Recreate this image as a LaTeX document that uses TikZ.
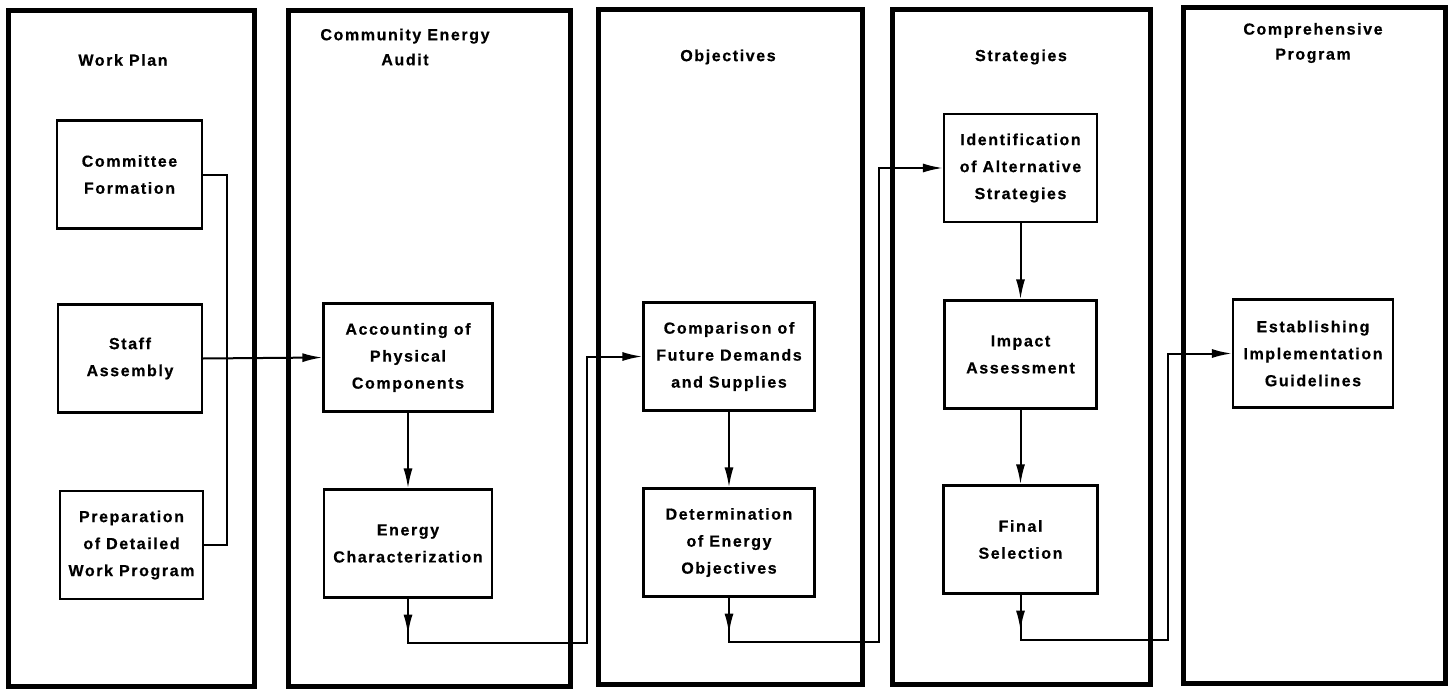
\documentclass[tikz,border=0pt]{standalone}
\usepackage{fontspec}
\setmainfont{Liberation Sans}[LetterSpace=10,FakeBold=0.6]
\usetikzlibrary{arrows.meta}
\begin{document}
\begin{tikzpicture}[x=1pt,y=-1pt,
  panel/.style={draw, line width=5pt, line join=miter, minimum width=#1, minimum height=675pt, inner sep=0pt},
  stage/.style={draw, line width=2.2pt, align=center, inner sep=0pt, minimum height=108pt,
    font=\bfseries\fontsize{16}{27}\selectfont},
  ttl/.style={align=center, inner sep=0pt, font=\bfseries\fontsize{16}{25}\selectfont},
  conn/.style={line width=2pt},
  arr/.style={conn, -{Latex[length=20pt,width=9pt]}}]
\useasboundingbox (0,0) rectangle (1451,690);
% panels
\node[panel=246pt] (P1) at (131,348.5) {};
\node[panel=282pt] (P2) at (429,348.5) {};
\node[panel=264pt] (P3) at (730,347) {};
\node[panel=258pt] (P4) at (1021,347) {};
\node[panel=262pt] (P5) at (1314,345.5) {};
% titles
\node[ttl] (T1) at (123,60) {Work Plan};
\node[ttl] (T2) at (405,47) {Community Energy\\Audit};
\node[ttl] (T3) at (728,57) {Objectives};
\node[ttl] (T4) at (1021,57) {Strategies};
\node[ttl] (T5) at (1313,43) {Comprehensive\\Program};
% boxes
\node[stage, minimum width=145pt] (CF) at (129.5,174.5) {Committee\\Formation};
\node[stage, minimum width=144pt] (SA) at (130,358.5) {Staff\\Assembly};
\node[stage, minimum width=143pt] (PR) at (131.5,545) {Preparation\\of Detailed\\Work Program};
\node[stage, minimum width=169pt] (AC) at (408,357.5) {Accounting of\\Physical\\Components};
\node[stage, minimum width=168pt] (EC) at (408,543.5) {Energy\\Characterization};
\node[stage, minimum width=171pt] (CO) at (729,356.5) {Comparison of\\Future Demands\\and Supplies};
\node[stage, minimum width=171pt] (DE) at (729,542.5) {Determination\\of Energy\\Objectives};
\node[stage, minimum width=153pt] (ID) at (1020.5,168) {Identification\\of Alternative\\Strategies};
\node[stage, minimum width=152pt] (IM) at (1020.5,354.5) {Impact\\Assessment};
\node[stage, minimum width=154pt] (FS) at (1020.5,539.5) {Final\\Selection};
\node[stage, minimum width=160pt] (ES) at (1313,353.5) {Establishing\\Implementation\\Guidelines};
% connectors
\coordinate (b1) at (227,360);
\draw[conn] (CF.east) -| (b1) |- (PR.east);
\draw[arr] (SA.east) -- (AC.west);
\draw[arr] (AC.south) -- (EC.north);
\draw[arr] (CO.south) -- (DE.north);
\draw[arr] (ID.south) -- (IM.north);
\draw[arr] (IM.south) -- (FS.north);
\coordinate (t1) at (587,643);
\draw[arr] (EC.south) |- (t1) |- (CO.west);
\draw[arr] (EC.south) -- ++(0,36);
\coordinate (t2) at (879,642);
\draw[arr] (DE.south) |- (t2) |- (ID.west);
\draw[arr] (DE.south) -- ++(0,36);
\coordinate (t3) at (1168,640);
\draw[arr] (FS.south) |- (t3) |- (ES.west);
\draw[arr] (FS.south) -- ++(0,36);
\end{tikzpicture}
\end{document}
